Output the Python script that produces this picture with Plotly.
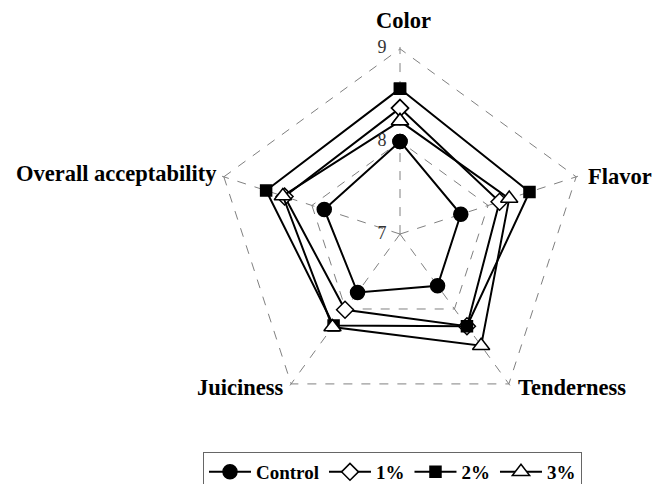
import plotly.graph_objects as go

categories = ["Color", "Flavor", "Tenderness", "Juiciness", "Overall acceptability"]
series_names = ["Control", "1%", "2%", "3%"]
control = [8.00, 7.69, 7.69, 7.78, 7.86]
pct1 = [8.36, 8.13, 8.23, 8.01, 8.31]
pct2 = [8.57, 8.47, 8.23, 8.22, 8.52]
pct3 = [8.22, 8.24, 8.49, 8.24, 8.33]
radial_ticks = [7, 8, 9]

values = [control, pct1, pct2, pct3]
symbols = ["circle", "diamond", "square", "triangle-up"]
fills = ["black", "white", "black", "white"]
sizes = [14, 13, 11, 15]

W, H = 662, 484
fig = go.Figure()

for name, vals, sym, fc, sz in zip(series_names, values, symbols, fills, sizes):
    fig.add_trace(go.Scatterpolar(
        r=vals + vals[:1],
        theta=categories + categories[:1],
        mode="lines+markers",
        name=name,
        line=dict(color="black", width=2),
        marker=dict(symbol=sym, size=sz, color=fc,
                    line=dict(color="black", width=1.5)),
    ))

# radial tick labels drawn on the Color spoke, to its left
fig.add_trace(go.Scatterpolar(
    r=radial_ticks, theta=[categories[0]] * len(radial_ticks),
    mode="text", text=[str(t) + "\u00a0\u00a0\u00a0" for t in radial_ticks],
    textposition="middle left", showlegend=False, hoverinfo="skip",
    cliponaxis=False,
    textfont=dict(size=18, color="#333333", family="Liberation Serif"),
))

# category label placement (pixels from top-left of the figure)
label_pos = [(395.5, 13, "center"), (578, 169.5, "left"), (508, 381.5, "left"),
             (278, 381.5, "right"), (211, 166, "right")]
for cat, (px, py, anchor) in zip(categories, label_pos):
    fig.add_annotation(
        x=px / W, y=1 - py / H, xref="paper", yref="paper",
        text=cat, showarrow=False, xanchor=anchor, yanchor="middle",
        font=dict(size=22.5, family="Liberation Serif", color="black", weight="bold"),
    )

R9 = 186 * 2.02 / 2
cx, cy = 392, 227
fig.update_layout(
    width=W, height=H,
    margin=dict(l=0, r=0, t=0, b=0),
    paper_bgcolor="white",
    font=dict(family="Liberation Serif", color="black"),
    polar=dict(
        domain=dict(x=[(cx - R9) / W, (cx + R9) / W],
                    y=[1 - (cy + R9) / H, 1 - (cy - R9) / H]),
        bgcolor="white",
        gridshape="linear",
        radialaxis=dict(
            range=[6.9999, 9.02], tickvals=radial_ticks, angle=90,
            showticklabels=False, showline=False, ticks="",
            gridcolor="#808080", griddash="dash", gridwidth=1,
        ),
        angularaxis=dict(
            rotation=90, direction="clockwise",
            showline=False, ticks="", showticklabels=False,
            gridcolor="#808080", griddash="dash", gridwidth=1,
        ),
    ),
    legend=dict(
        orientation="h", x=195 / W, xanchor="left", y=1 - 446 / H, yanchor="top",
        bordercolor="#666666", borderwidth=1, itemwidth=42,
        font=dict(size=19, family="Liberation Serif", color="black", weight="bold"),
    ),
)

fig.write_html("out.html")
